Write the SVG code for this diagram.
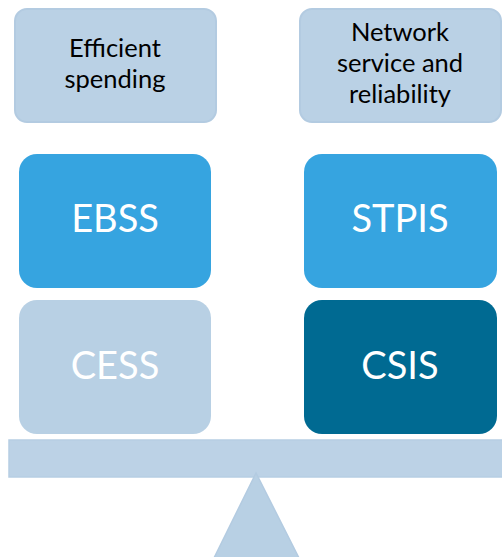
<svg xmlns="http://www.w3.org/2000/svg" width="502" height="557" viewBox="0 0 502 557">
<style>
.cat{fill:#bad1e5;stroke:#b3cbe1;stroke-width:2}
.lbl{font-family:Lato,"Open Sans",sans-serif;font-size:25.5px;fill:#000;text-anchor:middle}
.big{font-family:Lato,"Open Sans",sans-serif;font-size:38px;fill:#fff;text-anchor:middle}
</style>
<rect width="502" height="557" fill="#fff"/>
<g id="efficient">
<rect class="cat" x="15" y="9" width="201" height="113" rx="12"/>
<text class="lbl" x="115" y="57">Efficient</text>
<text class="lbl" x="115" y="88">spending</text>
</g>
<g id="network">
<rect class="cat" x="300" y="9" width="201" height="113" rx="12"/>
<text class="lbl" x="400" y="41">Network</text>
<text class="lbl" x="400" y="72">service and</text>
<text class="lbl" x="400" y="103">reliability</text>
</g>
<g id="ebss">
<rect x="19" y="154" width="192" height="134" rx="18" fill="#36a4e0"/>
<text class="big" x="115" y="232">EBSS</text>
</g>
<g id="stpis">
<rect x="304" y="154" width="193" height="134" rx="18" fill="#36a4e0"/>
<text class="big" x="400" y="232">STPIS</text>
</g>
<g id="cess">
<rect x="19" y="300" width="192" height="134" rx="18" fill="#b8d0e4"/>
<text class="big" x="115" y="379">CESS</text>
</g>
<g id="csis">
<rect x="304" y="300" width="193" height="134" rx="18" fill="#006a92"/>
<text class="big" x="400" y="379">CSIS</text>
</g>
<g id="scale">
<rect x="9" y="440" width="494" height="37" fill="#bcd2e6" stroke="#b6cee3" stroke-width="1.5"/>
<polygon points="256,473 214,558 299,558" fill="#b8d0e4" stroke="#b3cbe1" stroke-width="1.5"/>
</g>
<g id="connectors"></g>
</svg>
